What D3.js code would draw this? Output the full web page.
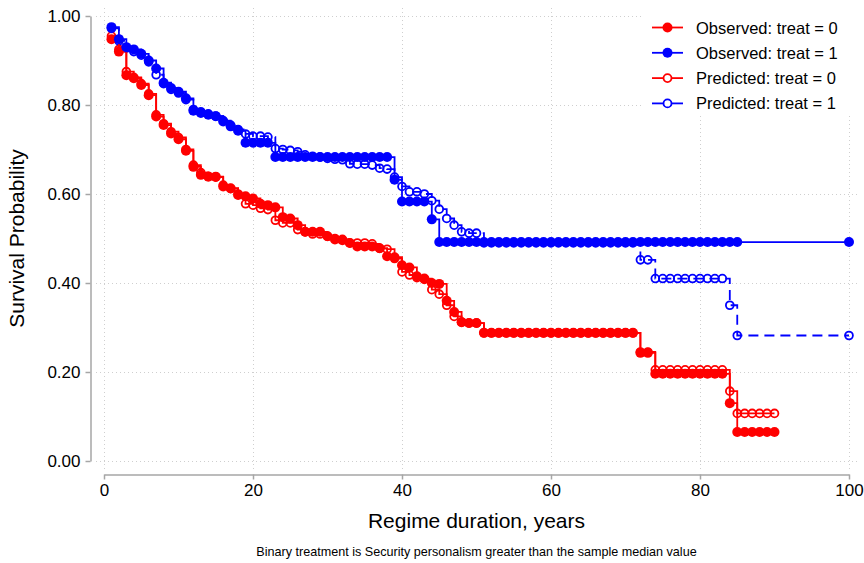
<!DOCTYPE html>
<html>
<head>
<meta charset="utf-8">
<script src="https://cdn.jsdelivr.net/npm/d3@7"></script>
<style>
  body { margin: 0; background: #fff; }
  text { font-family: 'Liberation Sans', Arial, sans-serif; fill: #000; }
</style>
</head>
<body>
<svg></svg>
<script>
// data: survival estimates at each observed year

const timesTreat0 = d3.range(1, 91);
const timesTreat1 = d3.range(1, 86).concat([100]);

const observed0 = [
  0.948, 0.920, 0.867, 0.860, 0.845, 0.822, 0.774, 0.755, 0.736, 0.723,
  0.697, 0.661, 0.643, 0.639, 0.639, 0.617, 0.613, 0.598, 0.595, 0.590,
  0.578, 0.575, 0.570, 0.548, 0.545, 0.530, 0.515, 0.515, 0.515, 0.505,
  0.498, 0.496, 0.490, 0.482, 0.482, 0.482, 0.478, 0.460, 0.458, 0.440,
  0.435, 0.415, 0.410, 0.400, 0.398, 0.360, 0.335, 0.312, 0.310, 0.310,
  0.288, 0.288, 0.288, 0.288, 0.288, 0.288, 0.288, 0.288, 0.288, 0.288,
  0.288, 0.288, 0.288, 0.288, 0.288, 0.288, 0.288, 0.288, 0.288, 0.288,
  0.288, 0.243, 0.243, 0.196, 0.196, 0.196, 0.196, 0.196, 0.196, 0.196,
  0.196, 0.196, 0.196, 0.130, 0.065, 0.065, 0.065, 0.065, 0.065, 0.065
];

const predicted0 = [
  0.955, 0.925, 0.875, 0.862, 0.848, 0.825, 0.778, 0.758, 0.740, 0.727,
  0.700, 0.665, 0.648, 0.640, 0.638, 0.620, 0.612, 0.600, 0.578, 0.575,
  0.568, 0.565, 0.541, 0.535, 0.535, 0.520, 0.515, 0.510, 0.510, 0.505,
  0.500, 0.498, 0.490, 0.490, 0.490, 0.488, 0.478, 0.476, 0.455, 0.425,
  0.418, 0.412, 0.408, 0.385, 0.375, 0.350, 0.325, 0.312, 0.310, 0.310,
  0.288, 0.288, 0.288, 0.288, 0.288, 0.288, 0.288, 0.288, 0.288, 0.288,
  0.288, 0.288, 0.288, 0.288, 0.288, 0.288, 0.288, 0.288, 0.288, 0.288,
  0.288, 0.245, 0.245, 0.205, 0.205, 0.205, 0.205, 0.205, 0.205, 0.205,
  0.205, 0.205, 0.205, 0.157, 0.107, 0.107, 0.107, 0.107, 0.107, 0.107
];

const observed1 = [
  0.975, 0.948, 0.930, 0.925, 0.915, 0.900, 0.882, 0.850, 0.838, 0.830,
  0.815, 0.787, 0.782, 0.778, 0.775, 0.763, 0.752, 0.742, 0.715, 0.715,
  0.715, 0.715, 0.683, 0.683, 0.683, 0.683, 0.683, 0.683, 0.683, 0.683,
  0.683, 0.683, 0.683, 0.683, 0.683, 0.683, 0.683, 0.683, 0.632, 0.583,
  0.583, 0.583, 0.583, 0.543, 0.492, 0.492, 0.492, 0.492, 0.492, 0.492,
  0.492, 0.492, 0.492, 0.492, 0.492, 0.492, 0.492, 0.492, 0.492, 0.492,
  0.492, 0.492, 0.492, 0.492, 0.492, 0.492, 0.492, 0.492, 0.492, 0.492,
  0.492, 0.492, 0.492, 0.492, 0.492, 0.492, 0.492, 0.492, 0.492, 0.492,
  0.492, 0.492, 0.492, 0.492, 0.492, 0.492
];

const predicted1 = [
  0.972, 0.944, 0.928, 0.920, 0.912, 0.897, 0.868, 0.848, 0.835, 0.827,
  0.812, 0.790, 0.785, 0.780, 0.775, 0.765, 0.755, 0.745, 0.735, 0.730,
  0.730, 0.728, 0.702, 0.700, 0.698, 0.695, 0.688, 0.685, 0.683, 0.680,
  0.678, 0.677, 0.668, 0.667, 0.667, 0.665, 0.658, 0.656, 0.638, 0.617,
  0.605, 0.605, 0.600, 0.585, 0.566, 0.545, 0.530, 0.515, 0.512, 0.512,
  0.490, 0.490, 0.490, 0.490, 0.490, 0.490, 0.490, 0.490, 0.490, 0.490,
  0.490, 0.490, 0.490, 0.490, 0.490, 0.490, 0.490, 0.490, 0.490, 0.490,
  0.490, 0.452, 0.452, 0.410, 0.410, 0.410, 0.410, 0.410, 0.410, 0.410,
  0.410, 0.410, 0.410, 0.350, 0.282, 0.282
];

const xTicks = [0, 20, 40, 60, 80, 100];
const yTicks = [0, 0.2, 0.4, 0.6, 0.8, 1.0];

const legendLabels = [
  'Observed: treat = 0',
  'Observed: treat = 1',
  'Predicted: treat = 0',
  'Predicted: treat = 1'
];


// root svg

const width = 864, height = 563;

const svg = d3.select('svg')
  .attr('width', width)
  .attr('height', height)
  .style('background', '#fff');

const xScale = d3.scaleLinear().domain([0, 100]).range([104, 849]);
const yScale = d3.scaleLinear().domain([0, 1]).range([461, 16]);

const axisColor = '#a6a6a6';


// grid

const gridG = svg.append('g')
  .attr('stroke', '#cfcfcf')
  .attr('stroke-width', 1)
  .attr('stroke-dasharray', '1,3');

gridG.selectAll('line.h')
  .data(yTicks)
  .enter()
    .append('line')
    .attr('x1', 96)
    .attr('x2', 860)
    .attr('y1', d => Math.round(yScale(d)) + 0.5)
    .attr('y2', d => Math.round(yScale(d)) + 0.5);

gridG.selectAll('line.v')
  .data(xTicks)
  .enter()
    .append('line')
    .attr('y1', 8)
    .attr('y2', 469)
    .attr('x1', d => Math.round(xScale(d)) + 0.5)
    .attr('x2', d => Math.round(xScale(d)) + 0.5);


// axes

const yAxisG = svg.append('g')
  .attr('transform', 'translate(90.5,0)')
  .call(d3.axisLeft(yScale).tickValues(yTicks).tickFormat(d3.format('.2f')).tickSize(5).tickPadding(5).tickSizeOuter(0));

const xAxisG = svg.append('g')
  .attr('transform', 'translate(0,474.5)')
  .call(d3.axisBottom(xScale).tickValues(xTicks).tickSize(5).tickPadding(4).tickSizeOuter(0));

[xAxisG, yAxisG].forEach(g => {
  g.select('.domain').attr('stroke', axisColor).attr('stroke-width', 1.5);
  g.selectAll('.tick line').attr('stroke', axisColor).attr('stroke-width', 1.5);
  g.selectAll('.tick text')
    .style('font-family', "'Liberation Sans', Arial, sans-serif")
    .style('font-size', '17px')
    .attr('fill', '#000');
});


// titles

svg.append('text')
  .attr('transform', `translate(24,${yScale(0.5)}) rotate(-90)`)
  .attr('text-anchor', 'middle')
  .style('font-size', '21px')
  .text('Survival Probability');

svg.append('text')
  .attr('x', xScale(50))
  .attr('y', 528)
  .attr('text-anchor', 'middle')
  .style('font-size', '21px')
  .text('Regime duration, years');

svg.append('text')
  .attr('x', xScale(50))
  .attr('y', 556)
  .attr('text-anchor', 'middle')
  .style('font-size', '12.6px')
  .text('Binary treatment is Security personalism greater than the sample median value');


// series

const toPoints = (times, values) => times.map((t, i) => ({ t, s: values[i] }));

const series = [
  { points: toPoints(timesTreat0, predicted0), color: '#ff0000', hollow: true, dash: null },
  { points: toPoints(timesTreat1, predicted1), color: '#0000ff', hollow: true, dash: '10,6' },
  { points: toPoints(timesTreat0, observed0), color: '#ff0000', hollow: false, dash: null },
  { points: toPoints(timesTreat1, observed1), color: '#0000ff', hollow: false, dash: null }
];

const stepLine = d3.line()
  .x(d => xScale(d.t))
  .y(d => yScale(d.s))
  .curve(d3.curveStepAfter);

const seriesG = svg.append('g');

series.forEach(sr => {
  const g = seriesG.append('g');

  g.append('path')
    .attr('d', stepLine(sr.points))
    .attr('fill', 'none')
    .attr('stroke', sr.color)
    .attr('stroke-width', 1.8)
    .attr('stroke-dasharray', sr.dash);

  g.selectAll('circle')
    .data(sr.points)
    .enter()
      .append('circle')
      .attr('cx', d => xScale(d.t))
      .attr('cy', d => yScale(d.s))
      .attr('r', sr.hollow ? 3.9 : 5)
      .attr('fill', sr.hollow ? 'none' : sr.color)
      .attr('stroke', sr.color)
      .attr('stroke-width', sr.hollow ? 1.8 : 0);
});


// legend

const legendG = svg.append('g');

legendG.append('rect')
  .attr('x', 644)
  .attr('y', 8)
  .attr('width', 220)
  .attr('height', 108)
  .attr('fill', '#fff');

const legendItems = [
  { color: '#ff0000', hollow: false },
  { color: '#0000ff', hollow: false },
  { color: '#ff0000', hollow: true },
  { color: '#0000ff', hollow: true }
];

legendG.selectAll('g.item')
  .data(legendItems)
  .enter()
    .append('g')
    .attr('transform', (d, i) => `translate(0,${27.5 + i * 25.3})`)
    .each(function(d, i) {
      const g = d3.select(this);

      g.append('line')
        .attr('x1', 652)
        .attr('x2', 683)
        .attr('stroke', d.color)
        .attr('stroke-width', 1.8);

      g.append('circle')
        .attr('cx', 667.5)
        .attr('r', d.hollow ? 4 : 5)
        .attr('fill', d.hollow ? '#fff' : d.color)
        .attr('stroke', d.color)
        .attr('stroke-width', d.hollow ? 1.8 : 0);

      g.append('text')
        .attr('x', 696)
        .attr('y', 6)
        .style('font-size', '16.5px')
        .text(legendLabels[i]);
    });
</script>
</body>
</html>
